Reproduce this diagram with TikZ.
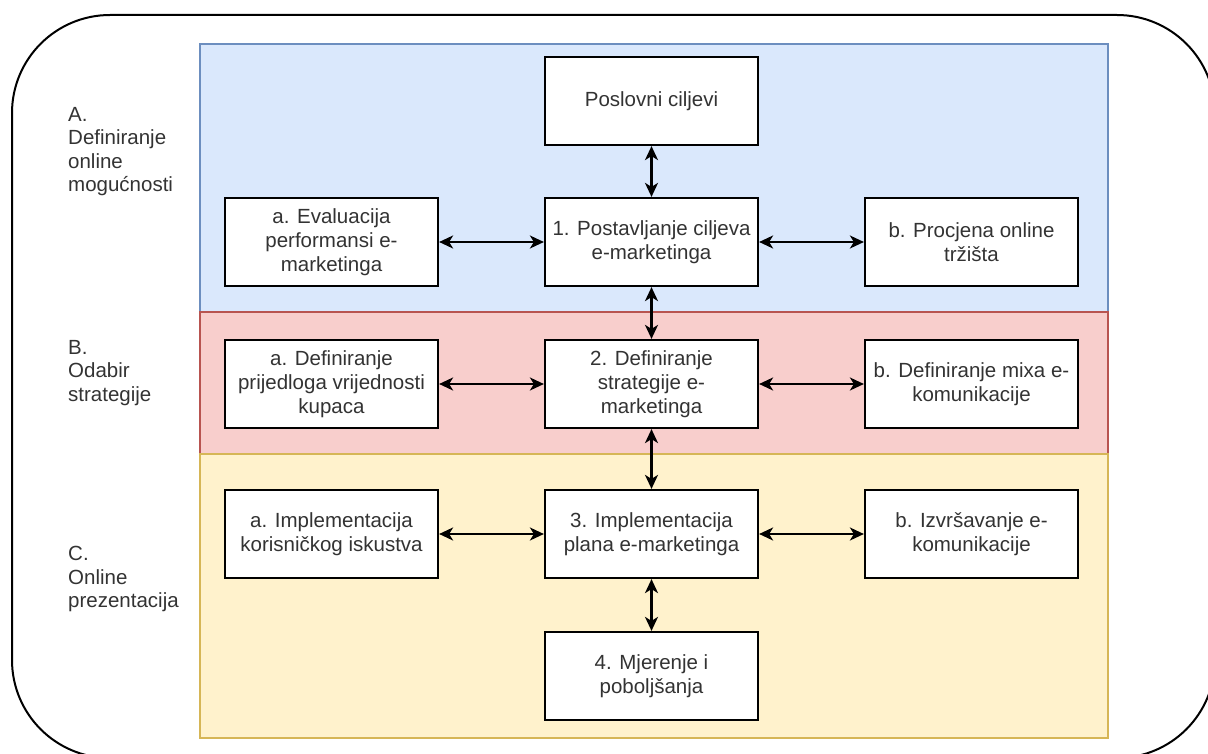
\documentclass[tikz,border=0pt]{standalone}
\usepackage{fontspec}
\setmainfont{Liberation Sans}
\usetikzlibrary{arrows.meta}
\definecolor{bandA}{HTML}{DAE8FC}
\definecolor{lineA}{HTML}{6C8EBF}
\definecolor{bandB}{HTML}{F8CECC}
\definecolor{lineB}{HTML}{B85450}
\definecolor{bandC}{HTML}{FFF2CC}
\definecolor{lineC}{HTML}{D6B656}
\definecolor{txt}{HTML}{333333}
\tikzset{
  box/.style={draw=black, fill=white, line width=2.2pt, minimum width=213pt,
    minimum height=88pt, align=center, text=txt, inner sep=2pt,
    font=\fontsize{20.5}{24}\selectfont},
  phase/.style={anchor=north west, align=left, text=txt, inner sep=0pt,
    font=\fontsize{20.5}{23.5}\selectfont},
  link/.style={line width=2.2pt, {Stealth[length=14pt,width=13pt,inset=4pt]}-{Stealth[length=14pt,width=13pt,inset=4pt]}}
}
\begin{document}
\begin{tikzpicture}[x=1pt,y=-1pt]
\useasboundingbox (0,0) rectangle (1208,754);
\clip (0,0) rectangle (1208,754);
\draw[line width=2pt, rounded corners=98pt] (12,15) rectangle (1215,758);

% bands
\draw[fill=bandA, draw=lineA, line width=1.8pt] (200,44) rectangle (1108,312);
\draw[fill=bandB, draw=lineB, line width=1.8pt] (200,312) rectangle (1108,454);
\draw[fill=bandC, draw=lineC, line width=1.8pt] (200,454) rectangle (1108,738);

% phase labels
\node[phase] (phaseA) at (68,107) {A.\\Definiranje\\online\\mogućnosti};
\node[phase] (phaseB) at (68,340) {B.\\Odabir\\strategije};
\node[phase] (phaseC) at (68,546) {C.\\Online\\prezentacija};

% boxes
\node[box] (goals) at (651.5,101) {Poslovni ciljevi};
\node[box] (set) at (651.5,242) {1. Postavljanje ciljeva\\e-marketinga};
\node[box] (eval) at (331.5,242) {a. Evaluacija\\performansi e-\\marketinga};
\node[box] (market) at (971.5,242) {b. Procjena online\\tržišta};
\node[box] (strat) at (651.5,384) {2. Definiranje\\strategije e-\\marketinga};
\node[box] (value) at (331.5,384) {a. Definiranje\\prijedloga vrijednosti\\kupaca};
\node[box] (mix) at (971.5,384) {b. Definiranje mixa e-\\komunikacije};
\node[box] (plan) at (651.5,534) {3. Implementacija\\plana e-marketinga};
\node[box] (ux) at (331.5,534) {a. Implementacija\\korisničkog iskustva};
\node[box] (exec) at (971.5,534) {b. Izvršavanje e-\\komunikacije};
\node[box] (measure) at (651.5,676) {4. Mjerenje i\\poboljšanja};

% arrows
\draw[link] (goals) -- (set);
\draw[link] (eval) -- (set);
\draw[link] (set) -- (market);
\draw[link] (set) -- (strat);
\draw[link] (value) -- (strat);
\draw[link] (strat) -- (mix);
\draw[link] (strat) -- (plan);
\draw[link] (ux) -- (plan);
\draw[link] (plan) -- (exec);
\draw[link] (plan) -- (measure);
\end{tikzpicture}
\end{document}
